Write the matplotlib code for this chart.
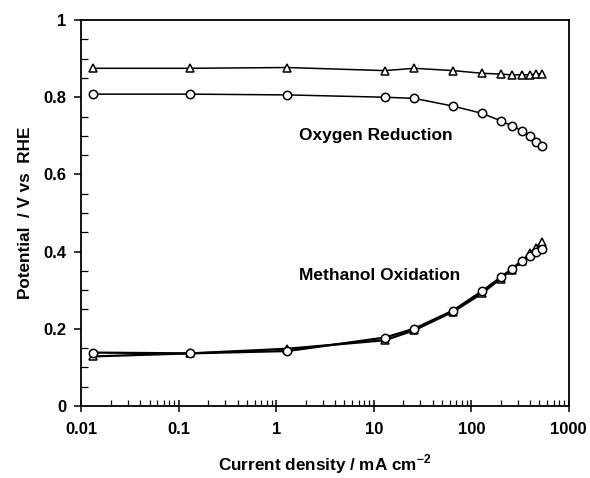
import matplotlib
matplotlib.use("Agg")
import matplotlib.pyplot as plt
from matplotlib.ticker import LogLocator, FixedLocator, MultipleLocator

plt.rcParams['font.family'] = ['Liberation Sans', 'DejaVu Sans']
plt.rcParams['font.weight'] = 'bold'
plt.rcParams['mathtext.fontset'] = 'custom'
plt.rcParams['mathtext.bf'] = 'Liberation Sans:bold'
plt.rcParams['mathtext.rm'] = 'Liberation Sans:bold'

# current density, mA cm-2
current = [0.013, 0.13, 1.3, 13, 26, 65, 130, 200, 260, 330, 400, 460, 530]

# oxygen reduction (cathode)
orr_tri = [0.875, 0.875, 0.877, 0.869, 0.875, 0.869, 0.862, 0.860, 0.858, 0.858, 0.858, 0.860, 0.861]
orr_circ = [0.808, 0.808, 0.806, 0.800, 0.797, 0.777, 0.758, 0.739, 0.726, 0.713, 0.699, 0.685, 0.674]

# methanol oxidation (anode)
moa_tri = [0.128, 0.136, 0.148, 0.170, 0.196, 0.244, 0.292, 0.330, 0.353, 0.375, 0.395, 0.410, 0.425]
moa_circ = [0.138, 0.136, 0.142, 0.177, 0.200, 0.247, 0.298, 0.333, 0.355, 0.376, 0.389, 0.398, 0.407]

x_ticks = [0.01, 0.1, 1, 10, 100, 1000]
x_labels = ['0.01', '0.1', '1', '10', '100', '1000']
y_ticks = [0, 0.2, 0.4, 0.6, 0.8, 1.0]
y_labels = ['0', '0.2', '0.4', '0.6', '0.8', '1']

fig = plt.figure(figsize=(5.9, 4.78), dpi=100)
ax = fig.add_axes([0.138, 0.151, 0.826, 0.807])

mk = dict(color='black', markerfacecolor='white', markeredgecolor='black',
          markersize=6, markeredgewidth=1.1)
ax.plot(current, orr_tri, marker='^', lw=1.1, **mk)
ax.plot(current, orr_circ, marker='o', lw=1.1, **mk)
ax.plot(current, moa_tri, marker='^', lw=1.6, **mk)
ax.plot(current, moa_circ, marker='o', lw=1.6, **mk)

ax.set_xscale('log')
ax.set_xlim(0.01, 1000)
ax.set_ylim(0, 1)

ax.xaxis.set_major_locator(FixedLocator(x_ticks))
ax.xaxis.set_minor_locator(LogLocator(base=10, subs=range(2, 10), numticks=20))
ax.set_xticklabels(x_labels)
ax.yaxis.set_major_locator(FixedLocator(y_ticks))
ax.yaxis.set_minor_locator(MultipleLocator(0.05))
ax.set_yticklabels(y_labels)

ax.tick_params(axis='x', which='major', direction='inout', length=8, width=1.1, labelsize=12, pad=8)
ax.tick_params(axis='x', which='minor', direction='in', length=4, width=0.9)
ax.tick_params(axis='y', which='major', direction='out', length=5, width=1.1, labelsize=12, pad=6)
ax.tick_params(axis='y', which='minor', direction='in', length=5, width=0.9)
for lab in ax.get_xticklabels() + ax.get_yticklabels():
    lab.set_fontweight('bold')
for s in ax.spines.values():
    s.set_linewidth(1.3)

ax.set_xlabel('Current density / mA cm$^{\\mathbf{-2}}$', fontsize=12.3, fontweight='bold', labelpad=11)
ax.set_ylabel('Potential  / V vs  RHE', fontsize=12.3, fontweight='bold', labelpad=7)

ax.text(0.446, 0.70, 'Oxygen Reduction', transform=ax.transAxes, ha='left', va='center',
        fontsize=12.5, fontweight='bold')
ax.text(0.446, 0.339, 'Methanol Oxidation', transform=ax.transAxes, ha='left', va='center',
        fontsize=12.5, fontweight='bold')

fig.savefig('out.png', dpi=100)
